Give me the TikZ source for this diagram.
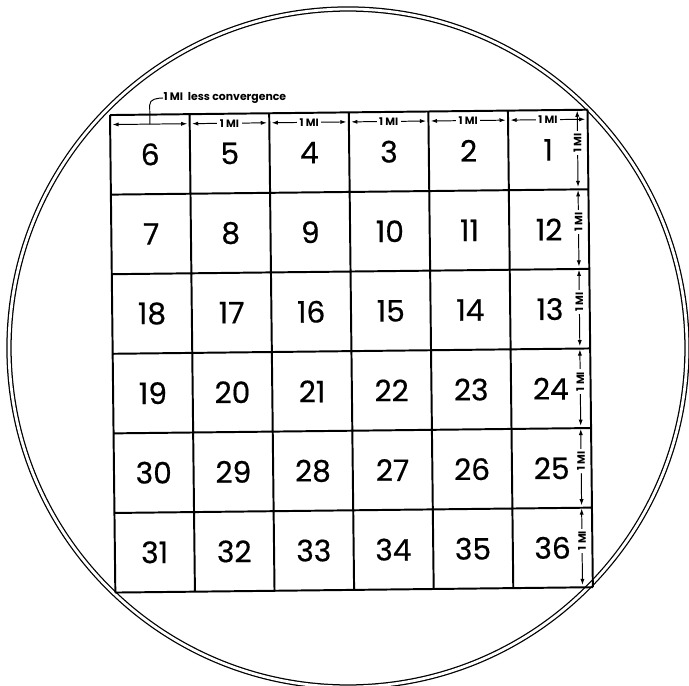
\documentclass[tikz,border=0pt]{standalone}
\usepackage{fontspec}
\setmainfont{Poppins}
\newfontfamily\numfont{Poppins}[FakeBold=0.5]
\usetikzlibrary{arrows.meta}

\begin{document}
\begin{tikzpicture}[>={Latex[length=2.2pt,width=1.5pt]},
  dimline/.style={<->,line width=0.35pt},
  milabel/.style={fill=white,inner sep=0.9pt,font=\fontsize{3.8}{4.5}\selectfont\bfseries},
  secnum/.style={font=\fontsize{10.6}{12}\numfont}]
\useasboundingbox (-1.382,1.445) rectangle (7.274,-7.173);
\draw[line width=0.45pt,double distance=1pt] (2.99,-2.927) circle (4.259);
\node[anchor=west,inner sep=0pt,font=\fontsize{3.9}{4.5}\selectfont\bfseries] (lc) at (0.666,0.214) {1 MI\ \ less convergence};
\begin{scope}[rotate=0.64]
\draw[line width=0.7pt] (0,-6) grid (6,0);
\foreach \r in {0,...,5}
  \foreach \c in {0,...,5} {
    \pgfmathtruncatemacro{\n}{mod(\r,2)==0 ? 6*\r+6-\c : 6*\r+1+\c}
    \node[secnum] (s\n) at (\c+0.5,-\r-0.5) {\n};
  }
% township width along the top
\draw[dimline] (0.03,-0.12) -- (0.97,-0.12);
\draw[line width=0.35pt] (0.5,-0.12) -- (0.5,0.12) to[out=90,in=180] (lc.west);
\foreach \c in {1,...,5}
  \draw[dimline] (\c+0.03,-0.12) -- node[milabel] (tm\c) {1 MI} (\c+0.97,-0.12);
% township height down the right side
\foreach \r in {0,...,5}
  \draw[dimline] (5.87,-\r-0.01) -- node[milabel,rotate=90,pos=0.42] (rm\r) {1 MI} (5.87,-\r-0.97);
\end{scope}
\end{tikzpicture}
\end{document}
